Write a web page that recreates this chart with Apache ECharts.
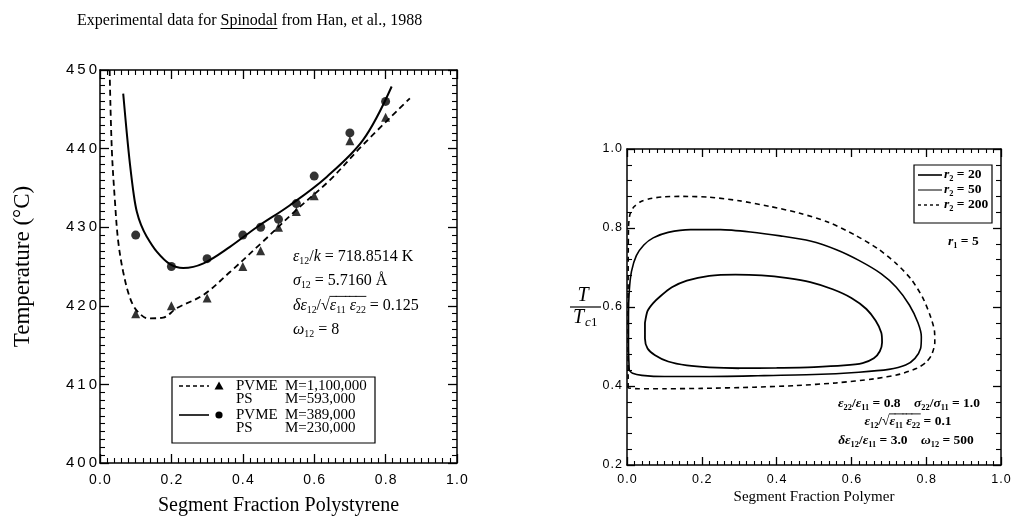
<!DOCTYPE html>
<html>
<head>
<meta charset="utf-8">
<script src="https://cdn.jsdelivr.net/npm/echarts@6/dist/echarts.min.js"></script>
<style>
  html, body { margin: 0; padding: 0; background: #fff; }
  #chart { width: 1015px; height: 528px; }
</style>
</head>
<body>
<div id="chart"></div>
<script>
// ---------- Left panel: PS / PVME spinodal temperatures ----------
const psFractionTicks = [0.0, 0.2, 0.4, 0.6, 0.8, 1.0];
const temperatureTicks = [400, 410, 420, 430, 440, 450];

// Measured spinodal points, PVME M=1,100,000 / PS M=593,000 (triangles)
const triangleFraction = [0.10, 0.20, 0.30, 0.40, 0.45, 0.50, 0.55, 0.60, 0.70, 0.80];
const triangleTemp     = [419, 420, 421, 425, 427, 430, 432, 434, 441, 444];

// Measured spinodal points, PVME M=389,000 / PS M=230,000 (circles)
const circleFraction = [0.10, 0.20, 0.30, 0.40, 0.45, 0.50, 0.55, 0.60, 0.70, 0.80];
const circleTemp     = [429, 425, 426, 429, 430, 431, 433, 436.5, 442, 446];

// Calculated spinodal, high molecular weight pair (dashed)
const dashedFraction = [0.027, 0.033, 0.042, 0.051, 0.065, 0.084, 0.103, 0.135, 0.177, 0.215, 0.29, 0.364, 0.457, 0.55, 0.644, 0.737, 0.868];
const dashedTemp     = [450, 440, 433.2, 428.2, 424.3, 421.0, 419.4, 418.4, 418.5, 419.7, 421.4, 424.3, 428.2, 432.2, 436.0, 440.5, 446.4];

// Calculated spinodal, low molecular weight pair (solid)
const solidFraction = [0.065, 0.075, 0.084, 0.095, 0.103, 0.115, 0.131, 0.159, 0.196, 0.233, 0.29, 0.364, 0.439, 0.532, 0.635, 0.737, 0.817];
const solidTemp     = [447.0, 442.0, 438.0, 434.0, 432.0, 430.3, 428.8, 426.9, 425.3, 424.8, 425.4, 427.5, 430.0, 432.8, 436.4, 441.1, 447.9];

// ---------- Right panel: reduced spinodals for r1 = 5 ----------
const polymerFractionTicks = [0.0, 0.2, 0.4, 0.6, 0.8, 1.0];
const reducedTempTicks = [0.2, 0.4, 0.6, 0.8, 1.0];

// r2 = 20 (inner closed loop)
const r20Fraction = [0.048, 0.055, 0.07, 0.09, 0.12, 0.16, 0.22, 0.29, 0.36, 0.43, 0.49, 0.55, 0.60, 0.64, 0.665, 0.68, 0.682, 0.676, 0.66, 0.63, 0.58, 0.50, 0.40, 0.30, 0.22, 0.16, 0.11, 0.075, 0.055, 0.048, 0.048];
const r20Temp     = [0.56, 0.59, 0.61, 0.628, 0.65, 0.667, 0.679, 0.682, 0.680, 0.673, 0.663, 0.645, 0.623, 0.595, 0.565, 0.535, 0.51, 0.488, 0.47, 0.458, 0.452, 0.448, 0.446, 0.445, 0.447, 0.452, 0.462, 0.478, 0.495, 0.52, 0.56];

// r2 = 50 (middle loop, hugging the left axis)
const r50Fraction = [0.006, 0.004, 0.004, 0.006, 0.012, 0.025, 0.045, 0.07, 0.11, 0.17, 0.25, 0.33, 0.41, 0.49, 0.56, 0.62, 0.68, 0.72, 0.755, 0.778, 0.787, 0.785, 0.77, 0.745, 0.70, 0.62, 0.50, 0.35, 0.20, 0.10, 0.04, 0.015, 0.006];
const r50Temp     = [0.44, 0.50, 0.58, 0.64, 0.69, 0.73, 0.757, 0.775, 0.789, 0.796, 0.796, 0.79, 0.78, 0.767, 0.745, 0.718, 0.684, 0.65, 0.605, 0.56, 0.525, 0.495, 0.47, 0.453, 0.442, 0.435, 0.429, 0.426, 0.424, 0.424, 0.427, 0.432, 0.44];

// r2 = 200 (outer dashed loop)
const r200Fraction = [0.003, 0.003, 0.004, 0.008, 0.018, 0.035, 0.06, 0.10, 0.15, 0.22, 0.30, 0.38, 0.46, 0.54, 0.61, 0.67, 0.72, 0.76, 0.79, 0.81, 0.822, 0.823, 0.815, 0.80, 0.775, 0.73, 0.66, 0.56, 0.45, 0.34, 0.20, 0.10, 0.03, 0.003];
const r200Temp     = [0.395, 0.60, 0.80, 0.835, 0.853, 0.866, 0.874, 0.879, 0.880, 0.878, 0.869, 0.855, 0.838, 0.814, 0.782, 0.748, 0.71, 0.67, 0.625, 0.58, 0.54, 0.51, 0.48, 0.46, 0.445, 0.43, 0.418, 0.408, 0.401, 0.397, 0.394, 0.393, 0.393, 0.395];

const zip = (xs, ys) => xs.map((x, i) => [x, ys[i]]);

// ---------- helpers ----------
const SERIF = '"Liberation Serif", "DejaVu Serif", serif';
const SANS = '"Liberation Sans", "DejaVu Sans", sans-serif';
const ctx = document.createElement('canvas').getContext('2d');
function measure(t, font) { ctx.font = font; return ctx.measureText(t).width; }
const spacedWith = gap => s => s.split('').join(gap);

function textEl(x, y, text, font, align) {
  return {
    type: 'text', x, y, silent: true,
    style: { text, font, fill: '#000', align: align || 'left', verticalAlign: 'middle',
             textAlign: align || 'left', textVerticalAlign: 'middle' }
  };
}
function lineEl(x1, y1, x2, y2, w, dash) {
  return { type: 'line', silent: true, shape: { x1, y1, x2, y2 },
           style: { stroke: '#000', lineWidth: w || 1, lineDash: dash || null } };
}

// Lays out an expression built from runs: [text, flags], flags: i = italic, s = subscript, o = overbar
function mathLine(x, y, size, parts, opt) {
  opt = opt || {};
  const weight = opt.bold ? 'bold ' : '';
  const runs = parts.map(([t, f = '']) => {
    const sub = f.includes('s');
    const fs = sub ? size * 0.62 : size;
    const font = (f.includes('i') ? 'italic ' : '') + weight + fs.toFixed(1) + 'px ' + SERIF;
    return { t, f, sub, font, w: measure(t, font) };
  });
  const total = runs.reduce((a, r) => a + r.w, 0);
  let cx = opt.center ? x - total / 2 : x;
  const els = [];
  runs.forEach(r => {
    els.push(textEl(cx, y + (r.sub ? size * 0.3 : 0), r.t, r.font));
    if (r.f.includes('o')) els.push(lineEl(cx - 0.5, y - size * 0.6, cx + r.w + 0.5, y - size * 0.6, 0.9));
    cx += r.w;
  });
  return els;
}

// ---------- axes ----------
function frameAxis(o) {
  return {
    type: 'value', gridIndex: o.grid, position: o.pos,
    min: o.ticks[0], max: o.ticks[o.ticks.length - 1], interval: o.ticks[1] - o.ticks[0],
    axisLine: { show: true, onZero: false, lineStyle: { color: '#000', width: 1.5 } },
    axisTick: { show: true, inside: true, length: o.major || 9, lineStyle: { color: '#000', width: 1.3 } },
    minorTick: { show: true, splitNumber: o.minor, length: o.minorLen || 5, lineStyle: { color: '#000', width: 1.1 } },
    splitLine: { show: false }, minorSplitLine: { show: false },
    axisLabel: o.label ? {
      show: true, margin: o.margin, color: '#000', fontFamily: SANS, fontSize: o.fontSize,
      showMinLabel: true, showMaxLabel: true, hideOverlap: false,
      formatter: v => (o.gap ? spacedWith(o.gap) : spacedWith('\u200A'))(o.fmt(v))
    } : { show: false },
    name: o.name || '', nameLocation: 'middle', nameGap: o.nameGap || 0,
    nameMoveOverlap: false,
    nameRotate: o.nameRotate,
    nameTextStyle: { color: '#000', fontFamily: SERIF, fontSize: o.nameSize || 14 }
  };
}

const fx1 = v => v.toFixed(1);
const xAxis = [
  frameAxis({ grid: 0, pos: 'bottom', ticks: psFractionTicks, minor: 10, label: true, margin: 10, fontSize: 14, fmt: fx1,
              name: 'Segment Fraction Polystyrene', nameGap: 33, nameSize: 20 }),
  frameAxis({ grid: 0, pos: 'top', ticks: psFractionTicks, minor: 10 }),
  frameAxis({ grid: 1, pos: 'bottom', ticks: polymerFractionTicks, minor: 10, label: true, margin: 8, fontSize: 12.5, fmt: fx1,
              name: 'Segment Fraction Polymer', nameGap: 25, nameSize: 15, major: 8, minorLen: 4 }),
  frameAxis({ grid: 1, pos: 'top', ticks: polymerFractionTicks, minor: 10, major: 8, minorLen: 4 })
];
const yAxis = [
  frameAxis({ grid: 0, pos: 'left', ticks: temperatureTicks, minor: 10, label: true, margin: 3, fontSize: 15, fmt: v => String(v),
              gap: '\u2009', name: 'Temperature (°C)', nameGap: 66, nameSize: 23, nameRotate: 90 }),
  frameAxis({ grid: 0, pos: 'right', ticks: temperatureTicks, minor: 10 }),
  frameAxis({ grid: 1, pos: 'left', ticks: reducedTempTicks, minor: 5, label: true, margin: 5, fontSize: 12.5, fmt: fx1, major: 8, minorLen: 5 }),
  frameAxis({ grid: 1, pos: 'right', ticks: reducedTempTicks, minor: 5, major: 8, minorLen: 5 })
];

const black = '#000';
const series = [
  { type: 'line', xAxisIndex: 0, yAxisIndex: 0, data: zip(dashedFraction, dashedTemp), smooth: 0.35,
    symbol: 'none', silent: true, lineStyle: { color: black, width: 1.8, type: [6, 4] } },
  { type: 'line', xAxisIndex: 0, yAxisIndex: 0, data: zip(solidFraction, solidTemp), smooth: 0.35,
    symbol: 'none', silent: true, lineStyle: { color: black, width: 2 } },
  { type: 'scatter', xAxisIndex: 0, yAxisIndex: 0, data: zip(triangleFraction, triangleTemp),
    symbol: 'triangle', symbolSize: 9, itemStyle: { color: black }, silent: true },
  { type: 'scatter', xAxisIndex: 0, yAxisIndex: 0, data: zip(circleFraction, circleTemp),
    symbol: 'circle', symbolSize: 9, itemStyle: { color: black }, silent: true },
  { type: 'line', xAxisIndex: 2, yAxisIndex: 2, data: zip(r20Fraction, r20Temp), smooth: 0.25,
    symbol: 'none', silent: true, lineStyle: { color: black, width: 1.8 } },
  { type: 'line', xAxisIndex: 2, yAxisIndex: 2, data: zip(r50Fraction, r50Temp), smooth: 0.25,
    symbol: 'none', silent: true, lineStyle: { color: black, width: 1.6 } },
  { type: 'line', xAxisIndex: 2, yAxisIndex: 2, data: zip(r200Fraction, r200Temp), smooth: 0.25,
    symbol: 'none', silent: true, lineStyle: { color: black, width: 1.6, type: [5, 4] } }
];

// ---------- text, legends and annotations ----------
const graphic = [];

// Heading with underlined word
(function () {
  const font = '16px ' + SERIF;
  const a = 'Experimental data for ', b = 'Spinodal', c = ' from Han, et al., 1988';
  const x0 = 77, y0 = 21;
  const wa = measure(a, font), wb = measure(b, font);
  graphic.push(textEl(x0, y0, a + b + c, font));
  graphic.push(lineEl(x0 + wa, y0 + 7.5, x0 + wa + wb, y0 + 7.5, 1));
})();

// Left legend
(function () {
  const font = '15px ' + SERIF;
  graphic.push({ type: 'rect', silent: true, shape: { x: 172, y: 377, width: 203, height: 66 },
                 style: { fill: '#fff', stroke: '#000', lineWidth: 1.2 } });
  graphic.push(lineEl(179, 386, 209, 386, 1.6, [4, 3]));
  graphic.push({ type: 'polygon', silent: true, shape: { points: [[219, 381.5], [223.5, 389.5], [214.5, 389.5]] }, style: { fill: '#000' } });
  graphic.push(lineEl(179, 415, 209, 415, 1.6));
  graphic.push({ type: 'circle', silent: true, shape: { cx: 219, cy: 415, r: 3.6 }, style: { fill: '#000' } });
  const rows = [[386, 'PVME', 'M=1,100,000'], [399.5, 'PS', 'M=593,000'], [415, 'PVME', 'M=389,000'], [428.5, 'PS', 'M=230,000']];
  rows.forEach(([y, a, b]) => { graphic.push(textEl(236, y, a, font)); graphic.push(textEl(285, y, b, font)); });
})();

// Left panel parameters
graphic.push(...mathLine(293, 257, 16, [['ε', 'i'], ['12', 's'], ['/', ''], ['k', 'i'], [' = 718.8514 K', '']]));
graphic.push(...mathLine(293, 281, 16, [['σ', 'i'], ['12', 's'], [' = 5.7160 Å', '']]));
graphic.push(...mathLine(293, 306, 16, [['δε', 'i'], ['12', 's'], ['/', ''], ['√', ''], ['ε', 'io'], ['11', 'so'], [' ', 'o'], ['ε', 'io'], ['22', 'so'], [' = 0.125', '']]));
graphic.push(...mathLine(293, 330, 16, [['ω', 'i'], ['12', 's'], [' = 8', '']]));

// Right panel y-axis label T / Tc1
(function () {
  graphic.push(textEl(583, 296, 'T', 'italic 20px ' + SERIF, 'center'));
  graphic.push(lineEl(570, 307, 601, 307, 1.2));
  graphic.push(textEl(573, 318, 'T', 'italic 20px ' + SERIF));
  graphic.push(textEl(585, 323, 'c', 'italic 13px ' + SERIF));
  graphic.push(textEl(591, 323, '1', '13px ' + SERIF));
})();

// Right legend
(function () {
  graphic.push({ type: 'rect', silent: true, shape: { x: 914, y: 165, width: 78, height: 58 },
                 style: { fill: '#fff', stroke: '#000', lineWidth: 1.2 } });
  const rows = [[175, '20', 1.6, null], [190, '50', 1.0, null], [205, '200', 1.4, [3, 3]]];
  rows.forEach(([y, v, w, dash]) => {
    graphic.push(lineEl(918, y, 942, y, w, dash));
    graphic.push(...mathLine(944, y, 13.5, [['r', 'i'], ['2', 's'], [' = ' + v, '']], { bold: true }));
  });
  graphic.push(...mathLine(948, 242, 13.5, [['r', 'i'], ['1', 's'], [' = 5', '']], { bold: true }));
})();

// Right panel parameters
graphic.push(...mathLine(909, 404, 13.5, [['ε', 'i'], ['22', 's'], ['/', ''], ['ε', 'i'], ['11', 's'], [' = 0.8    ', ''],
  ['σ', 'i'], ['22', 's'], ['/', ''], ['σ', 'i'], ['11', 's'], [' = 1.0', '']], { center: true, bold: true }));
graphic.push(...mathLine(908, 422, 13.5, [['ε', 'i'], ['12', 's'], ['/', ''], ['√', ''], ['ε', 'io'], ['11', 'so'], [' ', 'o'],
  ['ε', 'io'], ['22', 'so'], [' = 0.1', '']], { center: true, bold: true }));
graphic.push(...mathLine(906, 441, 13.5, [['δε', 'i'], ['12', 's'], ['/', ''], ['ε', 'i'], ['11', 's'], [' = 3.0    ', ''],
  ['ω', 'i'], ['12', 's'], [' = 500', '']], { center: true, bold: true }));

const chart = echarts.init(document.getElementById('chart'), null, { renderer: 'canvas' });
chart.setOption({
  animation: false,
  backgroundColor: '#fff',
  grid: [
    { left: 100, top: 70, width: 357, height: 393, containLabel: false, outerBoundsMode: 'none' },
    { left: 627, top: 149, width: 374, height: 316, containLabel: false, outerBoundsMode: 'none' }
  ],
  xAxis, yAxis, series, graphic
});
</script>
</body>
</html>
